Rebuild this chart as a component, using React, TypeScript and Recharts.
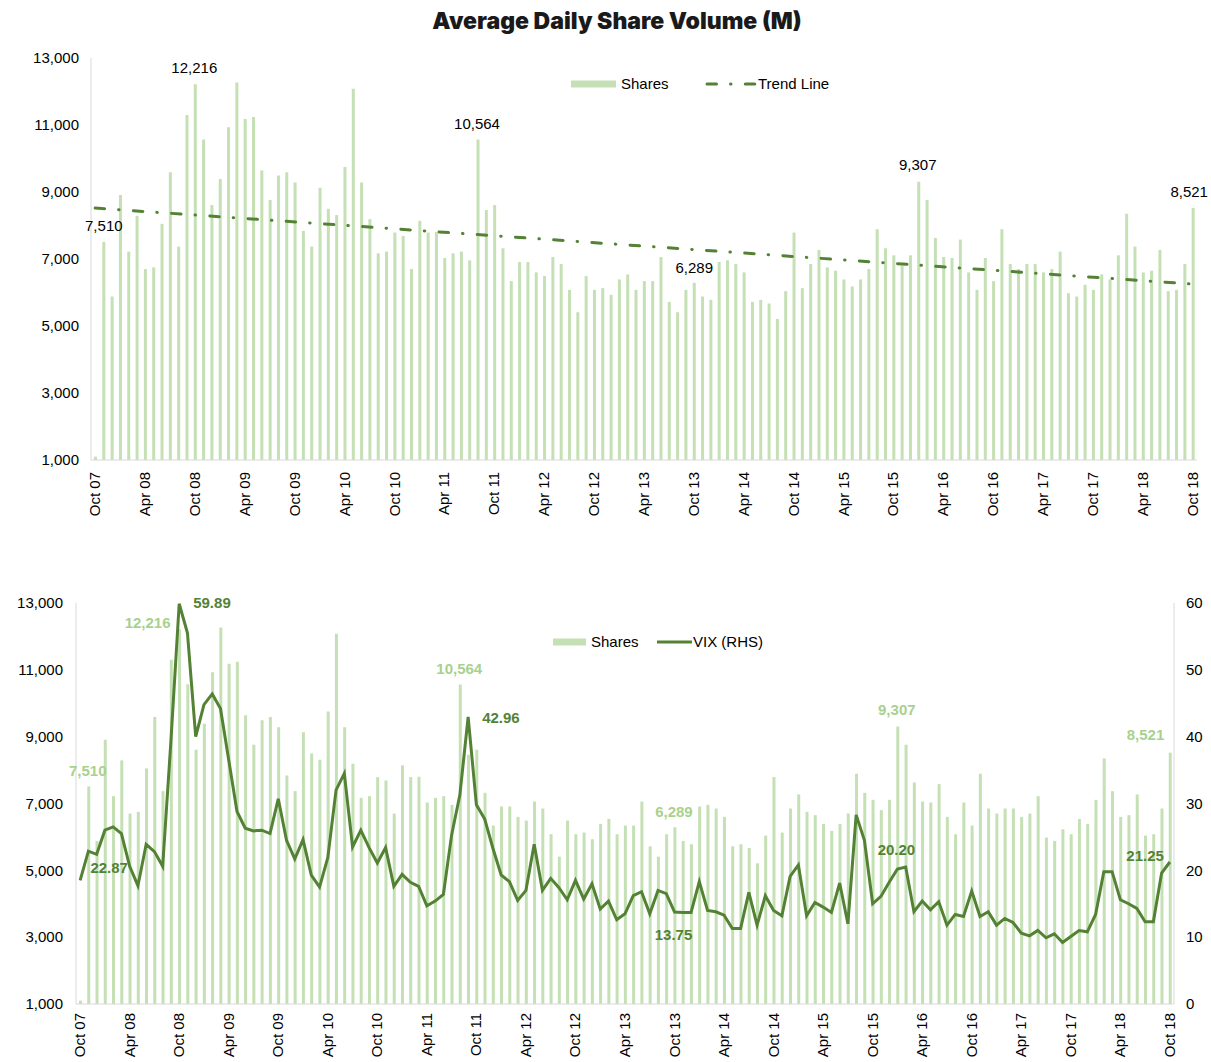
import {
  ComposedChart,
  Bar,
  Line,
  XAxis,
  YAxis,
  LabelList,
} from "recharts"

const monthNames = ["Jan", "Feb", "Mar", "Apr", "May", "Jun", "Jul", "Aug", "Sep", "Oct", "Nov", "Dec"]

// average daily share volume (M), monthly Oct 07 - Oct 18
const shares = [
  1100, 7510, 5880, 8910, 7220, 8290, 6700, 6750, 8050, 9590, 7370, 11300,
  12216, 10570, 8610, 9390, 10930, 12270, 11180, 11240, 9640, 8760, 9490, 9590,
  9280, 7840, 7370, 9130, 8500, 8310, 9750, 12080, 9280, 8190, 7170, 7220,
  7790, 7690, 6700, 8140, 7790, 7800, 7030, 7170, 7220, 6960, 10564, 8460,
  8610, 7320, 6340, 6910, 6910, 6600, 6490, 7060, 6850, 6080, 5410, 6490,
  6080, 6130, 5930, 6390, 6540, 6080, 6340, 6340, 7060, 5720, 5410, 6080,
  6289, 5880, 5780, 6910, 6960, 6850, 6600, 5720, 5780, 5670, 5210, 6040,
  7790, 6130, 6850, 7270, 6750, 6650, 6390, 6180, 6390, 6700, 7890, 7320,
  7110, 6800, 7110, 9307, 8760, 7630, 7060, 7030, 7580, 6600, 6080, 7030,
  6340, 7890, 6850, 6700, 6850, 6850, 6600, 6700, 7220, 5980, 5880, 6230,
  6080, 6540, 6390, 7110, 8350, 7370, 6600, 6650, 7270, 6040, 6080, 6850,
  8521,
]

const vix = [
  18.5, 22.87, 22.4, 26.0, 26.5, 25.5, 20.6, 17.7, 23.9, 22.8, 20.6, 39.4,
  59.89, 55.5, 40.0, 44.8, 46.4, 44.2, 36.5, 28.8, 26.3, 25.9, 26.0, 25.5,
  30.7, 24.5, 21.7, 24.6, 19.3, 17.5, 21.9, 32.0, 34.5, 23.5, 26.0, 23.4,
  21.1, 23.4, 17.6, 19.4, 18.2, 17.6, 14.7, 15.4, 16.4, 25.3, 31.3, 42.96,
  29.8, 27.7, 23.3, 19.3, 18.3, 15.5, 17.0, 23.9, 17.0, 18.8, 17.4, 15.6,
  18.5, 15.7, 18.0, 14.2, 15.4, 12.6, 13.5, 16.2, 16.8, 13.5, 17.0, 16.5,
  13.75, 13.7, 13.7, 18.3, 14.0, 13.8, 13.3, 11.3, 11.3, 16.7, 11.8, 16.2,
  14.0, 13.2, 19.1, 20.8, 13.2, 15.2, 14.5, 13.7, 18.1, 12.0, 28.3, 24.5,
  15.0, 16.1, 18.2, 20.2, 20.5, 13.8, 15.4, 14.1, 15.3, 11.8, 13.4, 13.1,
  16.9, 13.1, 13.8, 11.8, 12.8, 12.2, 10.6, 10.2, 11.0, 9.9, 10.5, 9.2,
  10.1, 11.0, 10.8, 13.4, 19.8, 19.8, 15.6, 15.0, 14.3, 12.3, 12.3, 19.6,
  21.25,
]

// trend line end points (first and last month)
const trendPoints = [
  { month: "Oct 07", value: 8520 },
  { month: "Oct 18", value: 6250 },
]

const shareHighlights = ["Nov 07", "Oct 08", "Aug 11", "Oct 13", "Jan 16", "Oct 18"]
const vixHighlights = ["Nov 07", "Oct 08", "Sep 11", "Oct 13", "Jan 16", "Oct 18"]

const shareTicks = [1000, 3000, 5000, 7000, 9000, 11000, 13000]
const vixTicks = [0, 10, 20, 30, 40, 50, 60]

const months = shares.map((_, k) => {
  const m = (9 + k) % 12
  const yr = 7 + Math.floor((9 + k) / 12)
  return `${monthNames[m]} ${String(yr).padStart(2, "0")}`
})

const rows = months.map((month, k) => ({
  month,
  shares: shares[k],
  vix: vix[k],
  trend: trendPoints.find((t) => t.month === month)?.value ?? null,
  shareLabel: shareHighlights.includes(month) ? shares[k] : null,
  vixLabel: vixHighlights.includes(month) ? vix[k] : null,
}))

const BAR = "#c5e0b4"
const DARK = "#548235"
const LIGHT_LABEL = "#a9d18e"
const AXIS = "#d9d9d9"
const FONT = "'Liberation Sans', Arial, sans-serif"

type Place = { dx: number; dy: number; anchor: "start" | "middle" | "end" }

const topSharePlaces: Record<string, Place> = {
  "7510": { dx: 0, dy: -11, anchor: "middle" },
  "12216": { dx: -1, dy: -11, anchor: "middle" },
  "10564": { dx: -1, dy: -11, anchor: "middle" },
  "6289": { dx: 0, dy: -10, anchor: "middle" },
  "9307": { dx: -1, dy: -12, anchor: "middle" },
  "8521": { dx: -4, dy: -11, anchor: "middle" },
}

const bottomSharePlaces: Record<string, Place> = {
  "7510": { dx: -1, dy: -10, anchor: "middle" },
  "12216": { dx: -9, dy: -1, anchor: "end" },
  "10564": { dx: -1, dy: -10, anchor: "middle" },
  "6289": { dx: -1, dy: -10, anchor: "middle" },
  "9307": { dx: -1, dy: -11, anchor: "middle" },
  "8521": { dx: -6, dy: -13, anchor: "end" },
}

const vixPlaces: Record<string, Place> = {
  "22.87": { dx: 2, dy: 22, anchor: "start" },
  "59.89": { dx: 14, dy: 4, anchor: "start" },
  "42.96": { dx: 14, dy: 6, anchor: "start" },
  "13.75": { dx: -1, dy: 28, anchor: "middle" },
  "20.20": { dx: -1, dy: -14, anchor: "middle" },
  "21.25": { dx: -6, dy: -1, anchor: "end" },
}

const fmtShares = (v: number) => v.toLocaleString("en-US")
const fmtVix = (v: number) => v.toFixed(2)

function makeLabel(
  places: Record<string, Place>,
  fmt: (v: number) => string,
  color: string,
  bold: boolean,
) {
  return (props: any) => {
    const { value } = props
    if (value == null) return null
    const vb = props.viewBox ?? {}
    const x = Number(props.x ?? vb.x)
    const y = Number(props.y ?? vb.y)
    const w = Number(props.width ?? vb.width ?? 0)
    const text = fmt(Number(value))
    const p = places[text.replace(/,/g, "")] ?? { dx: 0, dy: -8, anchor: "middle" }
    return (
      <text
        x={x + w / 2 + p.dx}
        y={y + p.dy}
        textAnchor={p.anchor}
        fill={color}
        fontSize={15}
        fontWeight={bold ? 700 : 400}
        fontFamily={FONT}
      >
        {text}
      </text>
    )
  }
}

function MonthTick(props: any) {
  const { x, y, payload, gap } = props
  const ty = y + gap
  return (
    <text
      x={x}
      y={ty}
      dy={5}
      transform={`rotate(-90 ${x} ${ty})`}
      textAnchor="end"
      fill="#000"
      fontSize={15}
      fontFamily={FONT}
    >
      {payload.value}
    </text>
  )
}

const tickStyle = { fill: "#000", fontSize: 15, fontFamily: FONT }

type LegendProps = { left: number; top: number; kind: "bar" | "trend" | "line"; swatch: number; text: string }

function LegendItem({ left, top, kind, swatch, text }: LegendProps) {
  return (
    <div style={{ position: "absolute", left, top, display: "flex", alignItems: "center", fontFamily: FONT, fontSize: 15, color: "#000", lineHeight: "18px" }}>
      <svg width={swatch} height={10} style={{ marginRight: kind === "bar" ? 5 : 1 }}>
        {kind === "bar" && <rect x={0} y={1.5} width={swatch} height={7} fill={BAR} />}
        {kind === "trend" && (
          <line x1={2} y1={5} x2={swatch - 2} y2={5} stroke={DARK} strokeWidth={3} strokeLinecap="round" strokeDasharray="9.5 14 0.5 14.3" />
        )}
        {kind === "line" && <line x1={0} y1={5} x2={swatch} y2={5} stroke={DARK} strokeWidth={3} />}
      </svg>
      <span>{text}</span>
    </div>
  )
}

export default function App() {
  return (
    <div style={{ position: "absolute", left: 0, top: 0, width: 1211, height: 1062, background: "#fff", overflow: "hidden" }}>
      <div
        style={{
          position: "absolute",
          left: 0,
          top: 8,
          width: 1234,
          textAlign: "center",
          fontFamily: "Inter, 'Liberation Sans', sans-serif",
          fontWeight: 900,
          fontSize: 23,
          lineHeight: "26px",
          color: "#1a1a1a",
        }}
      >
        Average Daily Share Volume (M)
      </div>

      <div style={{ position: "absolute", left: 0, top: 0 }}>
        <ComposedChart width={1211} height={520} data={rows} margin={{ top: 58, right: 14, bottom: 0, left: 0 }}>
          <XAxis
            dataKey="month"
            interval={5}
            tickLine={false}
            tickSize={0}
            tickMargin={0}
            height={60}
            axisLine={{ stroke: AXIS }}
            tick={<MonthTick gap={12} />}
          />
          <YAxis
            domain={[1000, 13000]}
            ticks={shareTicks}
            width={91}
            tickLine={false}
            tickSize={0}
            tickMargin={12}
            axisLine={{ stroke: AXIS }}
            tick={tickStyle}
            tickFormatter={fmtShares}
          />
          <Bar dataKey="shares" fill={BAR} barSize={3} isAnimationActive={false}>
            <LabelList dataKey="shareLabel" content={makeLabel(topSharePlaces, fmtShares, "#000", false)} />
          </Bar>
          <Line
            dataKey="trend"
            type="linear"
            connectNulls
            dot={false}
            activeDot={false}
            stroke={DARK}
            strokeWidth={3}
            strokeLinecap="round"
            strokeDasharray="9.5 14 0.5 14.3"
            isAnimationActive={false}
          />
        </ComposedChart>
        <LegendItem left={571} top={75} kind="bar" swatch={45} text="Shares" />
        <LegendItem left={705} top={75} kind="trend" swatch={52} text="Trend Line" />
      </div>

      <div style={{ position: "absolute", left: 0, top: 540 }}>
        <ComposedChart width={1211} height={522} data={rows} margin={{ top: 63, right: 0, bottom: 0, left: 0 }}>
          <XAxis
            dataKey="month"
            interval={5}
            tickLine={false}
            tickSize={0}
            tickMargin={0}
            height={58}
            axisLine={{ stroke: AXIS }}
            tick={<MonthTick gap={9} />}
          />
          <YAxis
            yAxisId="left"
            domain={[1000, 13000]}
            ticks={shareTicks}
            width={76}
            tickLine={false}
            tickSize={0}
            tickMargin={13}
            axisLine={{ stroke: AXIS }}
            tick={tickStyle}
            tickFormatter={fmtShares}
          />
          <YAxis
            yAxisId="right"
            orientation="right"
            domain={[0, 60]}
            ticks={vixTicks}
            width={37}
            tickLine={false}
            tickSize={0}
            tickMargin={12}
            axisLine={{ stroke: AXIS }}
            tick={tickStyle}
          />
          <Bar yAxisId="left" dataKey="shares" fill={BAR} barSize={3} isAnimationActive={false}>
            <LabelList dataKey="shareLabel" content={makeLabel(bottomSharePlaces, fmtShares, LIGHT_LABEL, true)} />
          </Bar>
          <Line
            yAxisId="right"
            dataKey="vix"
            type="linear"
            dot={false}
            activeDot={false}
            stroke={DARK}
            strokeWidth={3}
            isAnimationActive={false}
          >
            <LabelList dataKey="vixLabel" content={makeLabel(vixPlaces, fmtVix, DARK, true)} />
          </Line>
        </ComposedChart>
        <LegendItem left={553} top={93} kind="bar" swatch={33} text="Shares" />
        <LegendItem left={657} top={93} kind="line" swatch={35} text="VIX (RHS)" />
      </div>
    </div>
  )
}
